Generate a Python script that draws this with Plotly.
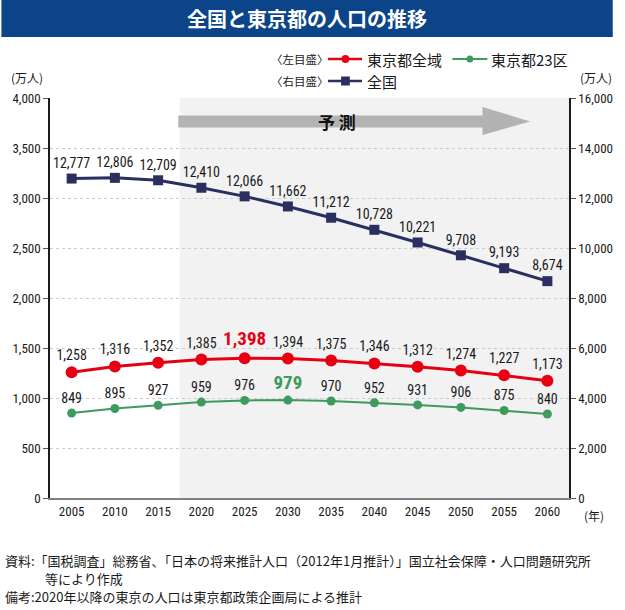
import plotly.graph_objects as go

years = ["2005", "2010", "2015", "2020", "2025", "2030", "2035", "2040", "2045", "2050", "2055", "2060"]
tokyo_all = [1258, 1316, 1352, 1385, 1398, 1394, 1375, 1346, 1312, 1274, 1227, 1173]
tokyo_23 = [849, 895, 927, 959, 976, 979, 970, 952, 931, 906, 875, 840]
japan = [12777, 12806, 12709, 12410, 12066, 11662, 11212, 10728, 10221, 9708, 9193, 8674]
peak_all_idx = 4
peak_23_idx = 5

W, H = 625, 610
L, R, T, B = 48, 43, 98, 112
PW, PH = W - L - R, H - T - B


def xp(px):
    return (px - L) / PW


def yp(py):
    return (H - B - py) / PH


NUM_FONT = "Roboto Condensed, Liberation Sans Narrow, DejaVu Sans Condensed, Roboto, Noto Sans CJK JP"
JP_FONT = "Noto Sans CJK JP"
RED = "#e60012"
GREEN = "#3f9a5e"
NAVY = "#2b2f60"


def labels(vals, peak=None):
    out = []
    for i, v in enumerate(vals):
        s = f"{v:,}"
        out.append(f"<b>{s}</b>" if i == peak else s)
    return out


def sizes(vals, peak=None, base=14, big=19):
    return [big if i == peak else base for i in range(len(vals))]


def colors(vals, peak=None, c="#1a1a1a", pc="#000"):
    return [pc if i == peak else c for i in range(len(vals))]


fig = go.Figure()

fig.add_trace(go.Scatter(
    x=years, y=japan, yaxis="y2", mode="lines+markers+text",
    line=dict(color=NAVY, width=3), marker=dict(symbol="square", size=10, color=NAVY),
    text=labels(japan), textposition="top center",
    textfont=dict(family=NUM_FONT, size=14, color="#1a1a1a"),
    cliponaxis=False, showlegend=False, name="全国"))

fig.add_trace(go.Scatter(
    x=years, y=tokyo_all, mode="lines+markers+text",
    line=dict(color=RED, width=3), marker=dict(symbol="circle", size=12, color=RED),
    text=labels(tokyo_all, peak_all_idx), textposition="top center",
    textfont=dict(family=NUM_FONT, size=sizes(tokyo_all, peak_all_idx),
                  color=colors(tokyo_all, peak_all_idx, pc=RED)),
    cliponaxis=False, showlegend=False, name="東京都全域"))

fig.add_trace(go.Scatter(
    x=years, y=tokyo_23, mode="lines+markers+text",
    line=dict(color=GREEN, width=2), marker=dict(symbol="circle", size=9, color=GREEN),
    text=labels(tokyo_23, peak_23_idx), textposition="top center",
    textfont=dict(family=NUM_FONT, size=sizes(tokyo_23, peak_23_idx),
                  color=colors(tokyo_23, peak_23_idx, pc=GREEN)),
    cliponaxis=False, showlegend=False, name="東京都23区"))

shapes = []
# forecast shading
shapes.append(dict(type="rect", xref="x", yref="paper", x0=2.5, x1=11.5, y0=0, y1=1,
                   fillcolor="#f2f2f2", line=dict(width=0), layer="below"))
# forecast arrow
ax0, ax1, ahb = xp(180), xp(542), xp(493)
ys_t, ys_b = yp(115.5), yp(127.5)
yh_t, yh_b, ym = yp(107), yp(135), yp(121.5)
shapes.append(dict(type="path", xref="paper", yref="paper",
                   path=f"M{ax0},{ys_t} L{ahb},{ys_t} L{ahb},{yh_t} L{ax1},{ym} L{ahb},{yh_b} L{ahb},{ys_b} L{ax0},{ys_b} Z",
                   fillcolor="#b3b3b3", line=dict(width=0), layer="above"))
# title bar
shapes.append(dict(type="rect", xref="paper", yref="paper", x0=xp(-2), x1=xp(W + 2), y0=yp(37), y1=yp(-2),
                   fillcolor="#0b4488", line=dict(width=0), layer="above"))
# legend glyphs
shapes.append(dict(type="line", xref="paper", yref="paper", x0=xp(334), x1=xp(369), y0=yp(59), y1=yp(59),
                   line=dict(color=RED, width=2.5)))
shapes.append(dict(type="circle", xref="paper", yref="paper", x0=xp(348), x1=xp(356), y0=yp(55), y1=yp(63),
                   fillcolor=RED, line=dict(width=0)))
shapes.append(dict(type="line", xref="paper", yref="paper", x0=xp(462), x1=xp(498), y0=yp(59), y1=yp(59),
                   line=dict(color=GREEN, width=2)))
shapes.append(dict(type="circle", xref="paper", yref="paper", x0=xp(476.5), x1=xp(483.5), y0=yp(55.5), y1=yp(62.5),
                   fillcolor=GREEN, line=dict(width=0)))
shapes.append(dict(type="line", xref="paper", yref="paper", x0=xp(334), x1=xp(369), y0=yp(81), y1=yp(81),
                   line=dict(color=NAVY, width=2.5)))
shapes.append(dict(type="rect", xref="paper", yref="paper", x0=xp(347.5), x1=xp(356.5), y0=yp(76.5), y1=yp(85.5),
                   fillcolor=NAVY, line=dict(width=0)))

ann = []


def txt(px, py, s, size=13, color="#1a1a1a", anchor="left", family=JP_FONT):
    ann.append(dict(xref="paper", yref="paper", x=xp(px), y=yp(py), text=s, showarrow=False,
                    xanchor=anchor, yanchor="middle", borderpad=0,
                    font=dict(family=family, size=size, color=color)))


txt(312.5, 18, "<b>全国と東京都の人口の推移</b>", size=20, color="white", anchor="center")
txt(343, 121, "<b>予 測</b>", size=17, color="#111", anchor="center")
txt(274, 59, "〈左目盛〉", size=11.5)
txt(373, 59, "東京都全域", size=15)
txt(501, 59, "東京都23区", size=15)
txt(274, 81, "〈右目盛〉", size=11.5)
txt(373, 81, "全国", size=15)
txt(7, 78, "(万人)", size=12)
txt(592, 78, "(万人)", size=12)
txt(596, 515, "(年)", size=12)
txt(1, 560, "資料:「国税調査」総務省、「日本の将来推計人口（2012年1月推計）」国立社会保障・人口問題研究所", size=13)
txt(42, 578, "等により作成", size=13)
txt(1, 596, "備考:2020年以降の東京の人口は東京都政策企画局による推計", size=13)

fig.update_layout(
    width=W, height=H, autosize=False, margin=dict(l=L, r=R, t=T, b=B, pad=0),
    paper_bgcolor="white", plot_bgcolor="white",
    shapes=shapes, annotations=ann,
    xaxis=dict(type="category", range=[-0.5, 11.5], showline=True, linecolor="#808080", linewidth=2,
               ticks="", showgrid=False, tickfont=dict(family=NUM_FONT, size=13, color="#1a1a1a"),
               fixedrange=True),
    yaxis=dict(range=[0, 4000], dtick=500, tickformat=",", showline=True, linecolor="#1a1a1a", linewidth=1.5,
               ticks="outside", ticklen=5, tickcolor="#555", showgrid=True, gridcolor="#cccccc",
               griddash="dot", gridwidth=1, zeroline=False,
               tickfont=dict(family=NUM_FONT, size=13, color="#1a1a1a")),
    yaxis2=dict(range=[0, 16000], dtick=2000, tickformat=",", overlaying="y", side="right",
                showline=True, linecolor="#1a1a1a", linewidth=1.5, ticks="outside", ticklen=5,
                tickcolor="#555", showgrid=False, zeroline=False,
                tickfont=dict(family=NUM_FONT, size=13, color="#1a1a1a")),
)

fig.write_html("out.html",
               config=dict(displayModeBar=False, responsive=False),
               post_script="document.documentElement.style.overflow='hidden';"
                           "document.body.style.margin='0';document.body.style.padding='0';"
                           "document.body.style.overflow='hidden';"
                           "var gd=document.getElementById('{plot_id}');"
                           "gd.style.width='625px';gd.style.height='610px';"
                           "Plotly.relayout(gd,{width:625,height:610,autosize:false});")
